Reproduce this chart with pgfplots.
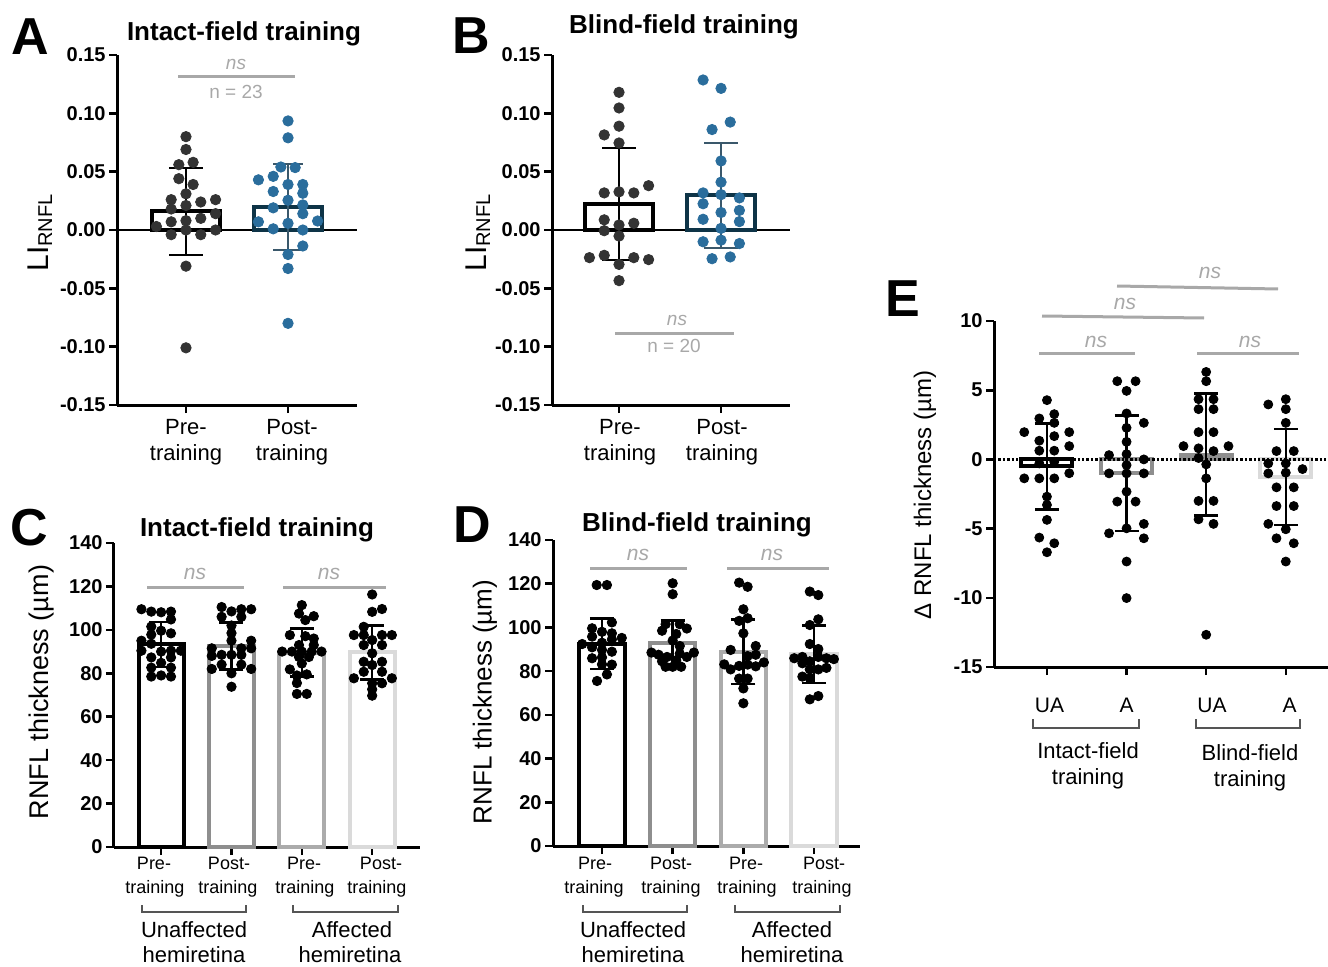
\documentclass[border=0pt]{standalone}
\usepackage{pgfplots}
\pgfplotsset{compat=1.18}
\usepackage{fontspec}
\setmainfont{Liberation Sans}
\definecolor{dotdark}{HTML}{333333}
\definecolor{dotblue}{HTML}{2A6D9C}
\definecolor{barblue}{HTML}{0E3447}
\definecolor{ebblue}{HTML}{3A586B}
\definecolor{nsgray}{HTML}{A8A8A8}
\definecolor{gmid}{HTML}{8E8E8E}
\definecolor{glight}{HTML}{ABABAB}
\definecolor{gpale}{HTML}{DADADA}
\definecolor{brk}{HTML}{555555}

\pgfplotsset{
  panel/.style={
    scale only axis, clip=false,
    axis lines=left,
    axis line style={-, line width=1.5pt, black},
    tick align=outside,
    major tick length=4pt,
    tick style={line width=1.3pt, black},
    xticklabels={},
    yticklabel style={font=\bfseries\fontsize{10}{12}\selectfont, inner sep=1.5pt},
  },
  dots/.style={only marks, mark=*, mark size=#1, mark options={draw=none}},
  bar/.style 2 args={ybar, bar width=#2, bar shift=0pt, draw=#1, fill=white, line width=2pt, mark=none},
  errb/.style n args={3}{color=#1, mark=none, forget plot, error bars/.cd, y dir=both, y explicit,
     error bar style={line width=#2, draw=#1}, error mark=-, error mark options={rotate=90, draw=#1, line width=#2, mark size=#3}},
}

\begin{document}
\begin{tikzpicture}
\path[use as bounding box] (0,0) rectangle (664pt,483pt);

% ---------------- Panel A ----------------
\begin{axis}[panel, at={(58.5pt,280.5pt)}, anchor=south west, width=120pt, height=175pt,
  xmin=0.324, xmax=2.676, ymin=-0.15, ymax=0.15,
  xtick={1,2}, ytick={-0.15,-0.1,-0.05,0,0.05,0.1,0.15},
  yticklabels={-0.15,-0.10,-0.05,0.00,0.05,0.10,0.15}]
\draw[line width=1pt] (axis cs:0.324,0) -- (axis cs:2.676,0);
\addplot[bar={black}{0.66}] coordinates {(1,0.016)};
\addplot[bar={barblue}{0.66}] coordinates {(2,0.020)};
\addplot[dots=2.6pt, dotdark] table {
1.000 0.080
1.000 0.069
0.930 0.056
1.070 0.058
0.930 0.044
1.070 0.039
1.000 0.031
0.855 0.026
1.000 0.021
1.145 0.024
1.290 0.026
0.855 0.018
1.290 0.014
0.710 0.003
0.855 0.007
1.000 0.008
1.145 0.010
0.855 -0.004
1.000 0.000
1.145 -0.004
1.290 0.000
1.000 -0.031
1.000 -0.101
};
\addplot[dots=2.6pt, dotblue] table {
2.000 0.0935
2.000 0.079
1.930 0.054
2.070 0.0535
1.710 0.043
1.855 0.046
2.000 0.039
2.145 0.039
1.855 0.033
2.145 0.0315
2.000 0.0255
1.855 0.019
2.145 0.0215
2.145 0.014
1.710 0.007
2.000 0.0057
2.290 0.0077
1.855 0.001
2.145 0.000
2.145 -0.0137
2.000 -0.021
2.000 -0.033
2.000 -0.080
};
\addplot[errb={black}{1pt}{8.5pt}] coordinates {(1,0.016) +- (0,0.037)};
\addplot[errb={ebblue}{1pt}{7.5pt}] coordinates {(2,0.020) +- (0,0.037)};
\end{axis}

% ---------------- Panel B ----------------
\begin{axis}[panel, at={(276pt,280.5pt)}, anchor=south west, width=119pt, height=175pt,
  xmin=0.343, xmax=2.676, ymin=-0.15, ymax=0.15,
  xtick={1,2}, ytick={-0.15,-0.1,-0.05,0,0.05,0.1,0.15},
  yticklabels={-0.15,-0.10,-0.05,0.00,0.05,0.10,0.15}]
\draw[line width=1pt] (axis cs:0.343,0) -- (axis cs:2.676,0);
\addplot[bar={black}{0.66}] coordinates {(1,0.022)};
\addplot[bar={barblue}{0.66}] coordinates {(2,0.030)};
\addplot[dots=2.6pt, dotdark] table {
1.000 0.118
1.000 0.1046
1.000 0.089
0.855 0.0815
1.000 0.0746
1.290 0.038
0.855 0.0318
1.000 0.0327
1.145 0.0318
0.855 0.0087
0.855 -0.0006
1.000 0.0043
1.145 0.0058
1.000 -0.0052
0.710 -0.0237
0.855 -0.0217
1.145 -0.0237
1.290 -0.0254
1.000 -0.0295
1.000 -0.0434
};
\addplot[dots=2.6pt, dotblue] table {
1.824 0.1286
2.000 0.1214
2.090 0.0925
1.912 0.0861
2.000 0.0592
2.000 0.041
1.824 0.0318
2.000 0.0303
2.180 0.0275
1.824 0.0225
2.000 0.015
2.180 0.0168
1.824 0.0092
2.180 0.0072
2.000 0.0014
1.824 -0.0101
2.000 -0.0087
2.180 -0.0116
1.912 -0.0246
2.090 -0.0231
};
\addplot[errb={black}{1pt}{8.5pt}] coordinates {(1,0.022) +- (0,0.048)};
\addplot[errb={ebblue}{1pt}{8.5pt}] coordinates {(2,0.030) +- (0,0.045)};
\end{axis}

% ---------------- Panel C ----------------
\begin{axis}[panel, at={(57pt,59.5pt)}, anchor=south west, width=153pt, height=152pt,
  xmin=0.33, xmax=4.68, ymin=0, ymax=140,
  xtick={1,2,3,4}, ytick={0,20,...,140}, yticklabels={0,20,40,60,80,100,120,140}]
\addplot[bar={black}{0.64}] coordinates {(1,93.3)};
\addplot[bar={gmid}{0.64}] coordinates {(2,92.6)};
\addplot[bar={glight}{0.64}] coordinates {(3,89.5)};
\addplot[bar={gpale}{0.64}] coordinates {(4,89.6)};
\addplot[dots=2.35pt, black] table {
0.72 109.5
0.86 108.4
1.00 108.1
1.14 108.4
1.14 104.8
0.86 101.5
1.00 99.6
1.14 98.4
0.86 97.8
0.72 95.0
0.86 93.6
1.00 90.0
1.14 90.4
1.28 90.4
0.72 90.4
0.86 87.3
1.14 87.3
1.00 84.8
0.86 82.6
1.14 82.6
0.86 78.5
1.00 79.0
1.14 78.5
};
\addplot[dots=2.35pt, black] table {
1.86 110.5
2.00 108.5
2.14 109.5
2.28 109.5
1.86 106
2.14 106
2.00 102
2.00 98.5
2.00 95
2.28 95
1.72 91.5
2.14 91.5
2.28 91.5
1.72 88
1.86 88.5
2.00 88.5
2.14 88.5
1.72 82
1.86 84
2.14 84
2.28 82
2.00 80
2.00 73.8
};
\addplot[dots=2.35pt, black] table {
3.00 111.4
2.96 107.5
3.17 106.3
3.05 104.5
2.83 97.6
3.05 97.1
3.17 96
2.96 93
3.17 93
2.72 90
2.86 90
3.00 90
3.14 90
3.28 90
2.96 87.5
3.10 87.5
3.00 84.5
2.83 81.8
2.93 79.0
3.07 79.5
2.93 75.5
2.93 70.5
3.07 70.5
};
\addplot[dots=2.35pt, black] table {
4.00 116.3
4.00 108.3
4.14 109.6
3.88 101.4
3.74 97.6
3.88 97.6
4.14 97.6
4.28 97.6
4.00 95.3
3.88 93
4.14 93
4.00 89.2
3.88 85.3
4.14 85.3
4.00 83.8
3.88 80.7
4.14 80.7
3.74 77.7
4.28 77.7
4.00 75.4
4.14 75.4
4.00 72.6
4.00 69.7
};
\addplot[errb={black}{1.3pt}{6pt}] coordinates {(1,93.3) +- (0,10.4)};
\addplot[errb={black}{1.3pt}{6pt}] coordinates {(2,92.6) +- (0,10.8)};
\addplot[errb={black}{1.3pt}{6pt}] coordinates {(3,89.5) +- (0,11)};
\addplot[errb={black}{1.3pt}{6pt}] coordinates {(4,89.6) +- (0,12.4)};
\end{axis}

% ---------------- Panel D ----------------
\begin{axis}[panel, at={(276.5pt,60pt)}, anchor=south west, width=153.5pt, height=153pt,
  xmin=0.307, xmax=4.65, ymin=0, ymax=140,
  xtick={1,2,3,4}, ytick={0,20,...,140}, yticklabels={0,20,40,60,80,100,120,140}]
\addplot[bar={black}{0.64}] coordinates {(1,92.5)};
\addplot[bar={gmid}{0.64}] coordinates {(2,93.0)};
\addplot[bar={glight}{0.64}] coordinates {(3,88.9)};
\addplot[bar={gpale}{0.64}] coordinates {(4,87.8)};
\addplot[dots=2.35pt, black] table {
0.925 119.4
1.07 119.4
1.14 102.3
0.86 99.6
1.00 98
1.14 97.3
0.86 95.8
0.72 92.4
1.00 93
1.14 94.5
1.28 95.2
0.86 90.9
1.00 89.7
1.14 88.9
0.86 85.9
1.00 86.3
1.00 83.1
1.14 83
1.07 78.5
0.93 75.5
};
\addplot[dots=2.35pt, black] table {
2.00 120.2
2.00 115.2
1.90 101.5
2.10 101.5
2.20 99.5
1.85 98.5
2.05 97
2.00 94
2.10 91.5
1.70 88.5
1.80 87.5
1.92 86.5
2.10 88
2.30 88.5
2.20 86.5
1.85 84.5
2.05 85
1.90 82
2.00 82
2.12 82
};
\addplot[dots=2.35pt, black] table {
2.94 120.5
3.06 118.6
3.00 108.3
2.94 103
3.06 104.2
3.00 97.3
2.82 89.7
3.175 91.5
3.06 86.9
3.175 87.5
2.73 83.1
2.94 82.4
3.06 83
3.175 82.2
3.29 84
2.82 80.8
2.94 76.6
3.06 76.6
3.00 72.1
3.00 65.3
};
\addplot[dots=2.35pt, black] table {
3.94 116.4
4.06 114.8
4.06 103.7
3.94 101.1
3.94 92.4
4.06 90.1
3.72 85.9
3.835 86.5
4.06 86.5
4.175 85.9
4.28 85.5
3.835 83.6
3.94 84.5
3.94 80.8
4.06 80.8
4.175 81.5
3.835 77.5
3.94 76.8
3.94 67.1
4.06 68.6
};
\addplot[errb={black}{1.3pt}{6pt}] coordinates {(1,92.5) +- (0,11.5)};
\addplot[errb={black}{1.3pt}{6pt}] coordinates {(2,93.0) +- (0,10.3)};
\addplot[errb={black}{1.3pt}{6pt}] coordinates {(3,88.9) +- (0,14.7)};
\addplot[errb={black}{1.3pt}{6pt}] coordinates {(4,87.8) +- (0,13.2)};
\end{axis}

% ---------------- Panel E ----------------
\begin{axis}[panel, at={(497pt,149.5pt)}, anchor=south west, width=167pt, height=173pt,
  xmin=0.335, xmax=4.53, ymin=-15, ymax=10,
  xtick={1,2,3,4}, ytick={-15,-10,-5,0,5,10}, yticklabels={-15,-10,-5,0,5,10}]
\addplot[bar={black}{0.64}] coordinates {(1,-0.5)};
\addplot[bar={gmid}{0.64}] coordinates {(2,-1.0)};
\addplot[bar={gmid}{0.64}] coordinates {(3,0.35)};
\addplot[bar={gpale}{0.64}] coordinates {(4,-1.27)};
\draw[densely dotted, line width=1.2pt] (axis cs:0.335,0) -- (axis cs:4.53,0);
\addplot[dots=2.25pt, black] table {
1.000 4.28
0.904 2.96
1.092 3.27
0.715 1.97
1.092 2.64
1.280 1.97
0.904 1.35
1.092 1.68
1.280 0.96
0.904 0.63
1.092 0.63
0.904 -0.29
1.092 -0.17
0.715 -1.37
0.904 -1.37
1.092 -1.37
1.280 -1.0
1.000 -2.69
1.000 -3.29
1.000 -4.37
0.904 -5.65
1.092 -6.06
1.000 -6.71
};
\addplot[dots=2.25pt, black] table {
1.883 5.65
2.113 5.65
2.000 4.95
2.000 3.32
2.217 2.64
2.000 2.28
2.000 1.27
1.780 0.31
2.000 0.38
2.217 0
2.000 -0.41
1.780 -1.01
2.000 -1.01
2.217 -1.01
2.000 -2.33
1.883 -3.05
2.113 -3.05
2.217 -4.66
1.780 -5.34
2.000 -4.98
2.217 -5.70
2.000 -7.38
2.000 -10.02
};
\addplot[dots=2.25pt, black] table {
3.000 6.32
3.000 5.65
2.904 4.35
3.092 4.35
2.904 3.63
3.092 3.63
2.904 1.97
3.092 1.97
2.715 0.96
3.280 0.96
2.904 0.80
3.092 0.60
2.904 0.10
3.000 -0.36
3.000 -1.37
2.904 -3.0
3.092 -3.0
2.904 -4.33
3.092 -4.66
3.000 -12.67
};
\addplot[dots=2.25pt, black] table {
4.000 4.35
3.780 3.97
4.000 3.63
4.000 2.64
3.883 0.60
4.100 0.60
3.780 -0.29
4.000 -0.29
4.210 -0.70
3.780 -1.01
4.000 -0.96
3.883 -2.02
4.100 -2.02
3.883 -3.37
4.100 -3.37
3.780 -4.66
4.000 -5.05
3.883 -5.70
4.100 -6.06
4.000 -7.38
};
\addplot[errb={black}{1.3pt}{6pt}] coordinates {(1,-0.5) +- (0,3.1)};
\addplot[errb={black}{1.3pt}{6pt}] coordinates {(2,-1.0) +- (0,4.16)};
\addplot[errb={black}{1.3pt}{6pt}] coordinates {(3,0.35) +- (0,4.41)};
\addplot[errb={black}{1.3pt}{6pt}] coordinates {(4,-1.27) +- (0,3.47)};
\end{axis}

% ---------------- Text and annotations (pixel grid) ----------------
\begin{scope}[x=0.5pt, y=-0.5pt, shift={(0,483pt)}]
% panel letters
\node[font=\bfseries\fontsize{26}{26}\selectfont] at (30,37) {A};
\node[font=\bfseries\fontsize{26}{26}\selectfont] at (471,36) {B};
\node[font=\bfseries\fontsize{26}{26}\selectfont] at (29,528) {C};
\node[font=\bfseries\fontsize{26}{26}\selectfont] at (472,525) {D};
\node[font=\bfseries\fontsize{26}{26}\selectfont] at (903,299) {E};
% titles
\node[anchor=base, font=\bfseries\fontsize{13}{15}\selectfont] at (244,41) {Intact-field training};
\node[anchor=base, font=\bfseries\fontsize{13}{15}\selectfont] at (684,34) {Blind-field training};
\node[anchor=base, font=\bfseries\fontsize{13}{15}\selectfont] at (257,536) {Intact-field training};
\node[anchor=base, font=\bfseries\fontsize{13}{15}\selectfont] at (697,531) {Blind-field training};
% y labels
\node[rotate=90, font=\fontsize{15}{15}\selectfont] at (40,233) {LI{\fontsize{10}{10}\selectfont\raisebox{-0.35ex}{RNFL}}};
\node[rotate=90, font=\fontsize{15}{15}\selectfont] at (478,233) {LI{\fontsize{10}{10}\selectfont\raisebox{-0.35ex}{RNFL}}};
\node[rotate=90, font=\fontsize{13.5}{15}\selectfont] at (42,692) {RNFL thickness (µm)};
\node[rotate=90, font=\fontsize{13}{15}\selectfont] at (485,702) {RNFL thickness (µm)};
\node[rotate=90, font=\fontsize{12}{14}\selectfont] at (925,495) {Δ RNFL thickness (µm)};
% A/B x labels
\begin{scope}[every node/.style={anchor=base, font=\fontsize{11}{13}\selectfont}]
\node at (186,434) {Pre-}; \node at (186,460) {training};
\node at (292,434) {Post-}; \node at (292,460) {training};
\node at (620,434) {Pre-}; \node at (620,460) {training};
\node at (722,434) {Post-}; \node at (722,460) {training};
\end{scope}
% C/D x labels
\begin{scope}[every node/.style={anchor=base, font=\fontsize{9}{11}\selectfont}]
\node at (154,869) {Pre-}; \node at (155,893) {training};
\node at (229,869) {Post-}; \node at (228,893) {training};
\node at (304,869) {Pre-}; \node at (305,893) {training};
\node at (381,869) {Post-}; \node at (377,893) {training};
\node at (595,869) {Pre-}; \node at (594,893) {training};
\node at (671,869) {Post-}; \node at (671,893) {training};
\node at (746,869) {Pre-}; \node at (747,893) {training};
\node at (824,869) {Post-}; \node at (822,893) {training};
\end{scope}
\begin{scope}[brk, line width=0.6pt]
\draw (142,905) -- (142,912) -- (246,912) -- (246,905);
\draw (293,905) -- (293,912) -- (398,912) -- (398,905);
\draw (583,905) -- (583,912) -- (687,912) -- (687,905);
\draw (735,905) -- (735,912) -- (840,912) -- (840,905);
\draw (1033,719) -- (1033,728) -- (1139,728) -- (1139,719);
\draw (1196,719) -- (1196,728) -- (1300,728) -- (1300,719);
\end{scope}
\begin{scope}[every node/.style={anchor=base, font=\fontsize{11}{13}\selectfont}]
\node at (194,937) {Unaffected}; \node at (194,962) {hemiretina};
\node at (352,937) {Affected}; \node at (350,962) {hemiretina};
\node at (633,937) {Unaffected}; \node at (633,962) {hemiretina};
\node at (792,937) {Affected}; \node at (792,962) {hemiretina};
\node at (1088,758) {Intact-field}; \node at (1088,784) {training};
\node at (1250,760) {Blind-field}; \node at (1250,786) {training};
\end{scope}
\begin{scope}[every node/.style={anchor=base, font=\fontsize{10.5}{12}\selectfont}]
\node at (1049.5,712) {UA}; \node at (1126.5,712) {A};
\node at (1212,712) {UA}; \node at (1289.5,712) {A};
\end{scope}
% significance annotations
\begin{scope}[nsgray, line width=1.5pt]
\draw (178,77) -- (295,77);
\draw (615,333) -- (734,333);
\draw (147,587) -- (244,587);
\draw (283,587) -- (386,587);
\draw (590,568) -- (687,568);
\draw (727,568) -- (829,568);
\draw (1039,353) -- (1135,353);
\draw (1197,353) -- (1299,353);
\draw (1042,316) -- (1204,318);
\draw (1117,286) -- (1278,289);
\end{scope}
\begin{scope}[every node/.style={nsgray, font=\itshape\fontsize{10.5}{12}\selectfont}]
\node[font=\itshape\fontsize{9.5}{11}\selectfont] at (236,64) {ns};
\node[font=\itshape\fontsize{9.5}{11}\selectfont] at (677,320) {ns};
\node at (195,574) {ns};
\node at (329,574) {ns};
\node at (638,555) {ns};
\node at (772,555) {ns};
\node at (1096,342) {ns};
\node at (1250,342) {ns};
\node at (1125,304) {ns};
\node at (1210,273) {ns};
\end{scope}
\node[nsgray, font=\fontsize{9.5}{11}\selectfont] at (236,92) {n = 23};
\node[nsgray, font=\fontsize{9.5}{11}\selectfont] at (674,346) {n = 20};
\end{scope}
\end{tikzpicture}
\end{document}
